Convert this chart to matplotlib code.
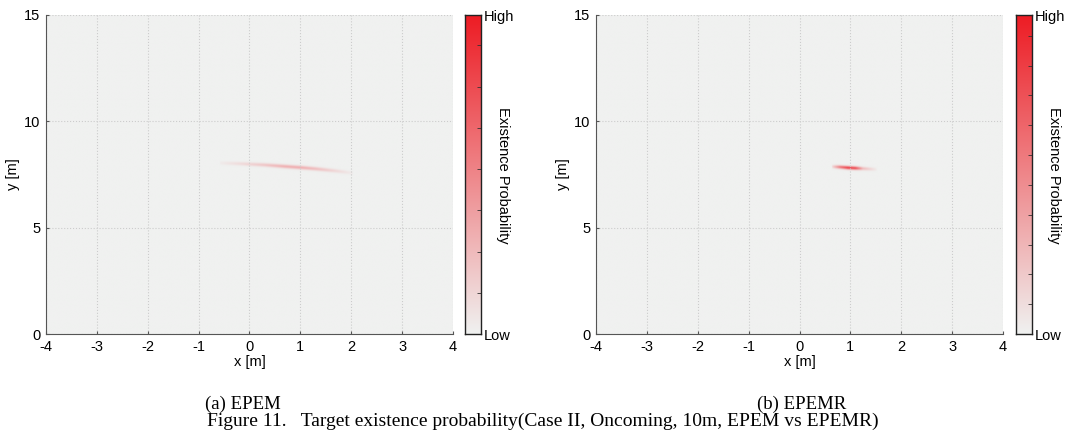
import numpy as np
import matplotlib
matplotlib.use('Agg')
import matplotlib.pyplot as plt
from matplotlib.colors import LinearSegmentedColormap

font = {'size': 10.5, 'family': 'Liberation Sans'}
matplotlib.rc('font', **font)
matplotlib.rc('axes', unicode_minus=False)

# ridge of the probability streak (x [m], y [m], level 0..1)
epem_x = [-0.58, -0.2, 0.3, 0.7, 1.0, 1.3, 1.7, 2.03]
epem_y = [8.04, 8.01, 7.95, 7.88, 7.83, 7.77, 7.67, 7.57]
epem_p = [0.03, 0.10, 0.20, 0.30, 0.31, 0.24, 0.12, 0.03]
epem_w = 0.06

epemr_x = [0.64, 0.8, 0.95, 1.1, 1.25, 1.52]
epemr_y = [7.87, 7.85, 7.82, 7.80, 7.78, 7.74]
epemr_p = [0.10, 0.55, 0.80, 0.75, 0.25, 0.03]
epemr_w = 0.055

xticks = [-4, -3, -2, -1, 0, 1, 2, 3, 4]
yticks = [0, 5, 10, 15]

cmap = LinearSegmentedColormap.from_list('exist', ['#f0f1f0', '#ed1c24'])


def field(rx, ry, rp, w):
    gx = np.linspace(-4, 4, 800)
    gy = np.linspace(0, 15, 900)
    X, Y = np.meshgrid(gx, gy)
    yc = np.interp(gx, rx, ry)
    pc = np.interp(gx, rx, rp, left=0, right=0)
    return pc[None, :] * np.exp(-0.5 * ((Y - yc[None, :]) / w) ** 2)


fig = plt.figure(figsize=(10.73, 4.37), dpi=100)
W, H = 1073.0, 437.0

panels = [
    (field(epem_x, epem_y, epem_p, epem_w), 46, 465, 7.74, '(a) EPEM', 243),
    (field(epemr_x, epemr_y, epemr_p, epemr_w), 596, 1016, 10.7, '(b) EPEMR', 802),
]

for Z, left, cleft, nseg, sub, subx in panels:
    ax = fig.add_axes([left / W, 1 - 334 / H, 407 / W, 319 / H])
    ax.imshow(Z, extent=[-4, 4, 0, 15], origin='lower', aspect='auto',
              cmap=cmap, vmin=0, vmax=1, interpolation='bilinear')
    ax.set_xlim(-4, 4)
    ax.set_ylim(0, 15)
    ax.set_xticks(xticks)
    ax.set_yticks(yticks)
    ax.grid(True, color='#cccccc', linestyle=':', linewidth=0.8)
    for s in ['top', 'right']:
        ax.spines[s].set_visible(False)
    for s in ['left', 'bottom']:
        ax.spines[s].set_color('#555555')
        ax.spines[s].set_linewidth(0.8)
    ax.tick_params(direction='in', length=2, color='#555555')
    ax.tick_params(axis='x', pad=4)
    ax.tick_params(axis='y', pad=4)
    ax.set_xlabel('x [m]', labelpad=1)
    ax.set_ylabel('y [m]', labelpad=3)

    cax = fig.add_axes([cleft / W, 1 - 334 / H, 16 / W, 319 / H])
    grad = np.linspace(0, 1, 256)[:, None]
    cax.imshow(grad, extent=[0, 1, 0, 1], origin='lower', aspect='auto',
               cmap=cmap, vmin=0, vmax=1)
    cax.set_xticks([])
    cax.yaxis.tick_right()
    cax.set_yticks([0, 1])
    cax.set_yticklabels(['Low', 'High'])
    cax.set_yticks(np.arange(1, nseg) / nseg, minor=True)
    cax.tick_params(which='major', length=0, pad=2)
    cax.tick_params(which='minor', direction='in', length=3, color='#333333')
    for s in cax.spines.values():
        s.set_color('#222222')
        s.set_linewidth(1.0)
    fig.text((cleft + 38) / W, 1 - 175 / H, 'Existence Probability',
             rotation=-90, ha='center', va='center')

    fig.text(subx / W, 1 - 404 / H, sub, ha='center', va='center',
             family='Liberation Serif', fontsize=13.5)

fig.text(543 / W, 1 - 421 / H,
         'Figure 11.   Target existence probability(Case II, Oncoming, 10m, EPEM vs EPEMR)',
         ha='center', va='center', family='Liberation Serif', fontsize=14)

fig.savefig('out.png', dpi=100)
